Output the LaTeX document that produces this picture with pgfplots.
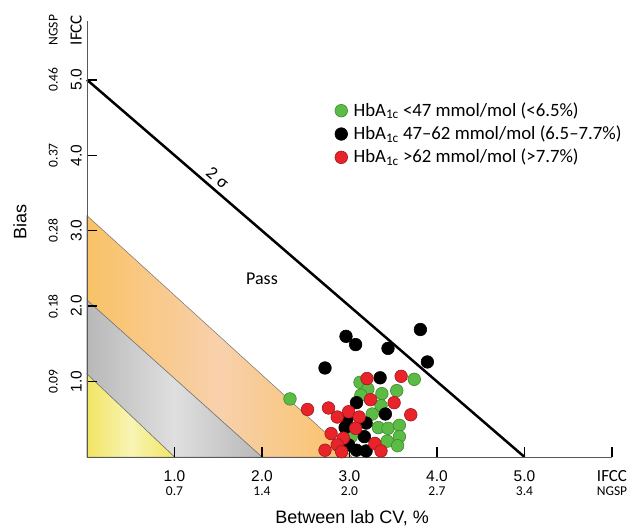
\documentclass[border=0pt]{standalone}
\usepackage{fontspec}
\setmainfont{Carlito}
\newfontfamily\arialf{Liberation Sans}
\usepackage{pgfplots}
\pgfplotsset{compat=1.18}
\definecolor{gfill}{HTML}{5CBB45}
\definecolor{gdraw}{HTML}{3C8A2C}
\definecolor{rfill}{HTML}{E8232A}
\definecolor{rdraw}{HTML}{9E1A1E}
\definecolor{orD}{HTML}{F9C266}
\definecolor{orL}{HTML}{F8D0AC}
\definecolor{grD}{HTML}{B8B8B8}
\definecolor{grL}{HTML}{DFDFDF}
\definecolor{yeD}{HTML}{F2E562}
\definecolor{yeL}{HTML}{F8F4B4}
\newcommand{\bigt}{\arialf\fontsize{15.5bp}{17bp}\selectfont}
\newcommand{\bigi}{\fontsize{17bp}{19bp}\selectfont}
\newcommand{\legf}{\fontsize{18.8bp}{21bp}\selectfont}
\begin{document}
\begin{tikzpicture}
\begin{axis}[
  scale only axis, width=525bp, height=436bp,
  xmin=0, xmax=6, ymin=0, ymax=5.78,
  axis x line*=bottom, axis y line*=left,
  axis line style={draw=black!65, line width=0.8bp},
  tick align=inside, major tick length=10bp,
  tick style={black, line width=1.4bp},
  xtick={1,2,3,4,5,6}, ytick={1,2,3,4,5},
  xticklabels={{{\bigt 1.0}\\0.7},{{\bigt 2.0}\\1.4},{{\bigt 3.0}\\2.0},{{\bigt 4.0}\\2.7},{{\bigt 5.0}\\3.4},{{\bigi IFCC}\\NGSP}},
  yticklabels={{0.09\\{\bigt 1.0}},{0.18\\{\bigt 2.0}},{0.28\\{\bigt 3.0}},{0.37\\{\bigt 4.0}},{0.46\\{\bigt 5.0}}},
  extra y ticks={5.66}, extra y tick labels={{NGSP\\{\bigi IFCC}}},
  extra y tick style={major tick length=0pt},
  xticklabel style={anchor=north, inner sep=0pt, align=center, font=\fontsize{13.5bp}{14bp}\selectfont},
  xticklabel shift=13bp,
  yticklabel style={rotate=90, anchor=south, inner sep=0pt, align=center, font=\fontsize{13.5bp}{24bp}\selectfont},
  yticklabel shift=5bp,
  xlabel={\arialf\fontsize{18bp}{20bp}\selectfont Between lab CV, \%},
  every axis x label/.style={at={(rel axis cs:0.505,0)}, yshift=-61bp, anchor=center},
  ylabel={\arialf\fontsize{18bp}{20bp}\selectfont Bias},
  every axis y label/.style={at={(rel axis cs:0,0.539)}, xshift=-67bp, rotate=90, anchor=center},
  clip=false, axis on top,
  legend style={at={(axis cs:2.834,4.69)}, anchor=north west, draw=none, fill=none,
    inner sep=0pt, outer sep=0pt, font=\legf, row sep=6.3bp, column sep=6bp,
    nodes={inner sep=0pt, text height=13bp, text depth=4bp, anchor=base west}},
  legend cell align=left,
  legend image code/.code={\draw[mark repeat=2,mark phase=2,#1] plot coordinates {(0bp,5.5bp)(6bp,5.5bp)(12bp,5.5bp)};},
]
% bands
\addplot[forget plot, draw=black!55, line width=0.5bp, left color=orD, right color=orD, middle color=orL]
  coordinates {(0,2.08) (0,3.2) (3.03,0) (2.0,0)} -- cycle;
\addplot[forget plot, draw=black!55, line width=0.5bp, left color=grD, right color=grD, middle color=grL]
  coordinates {(0,1.1) (0,2.08) (2.0,0) (1.0,0)} -- cycle;
\addplot[forget plot, draw=black!55, line width=0.5bp, left color=yeD, right color=yeD, middle color=yeL]
  coordinates {(0,0) (0,1.1) (1.0,0)} -- cycle;
% 2 sigma line
\addplot[forget plot, black, line width=2.5bp] coordinates {(0,5) (5,0)};
% data
\addplot[only marks, mark=*, mark size=6.3bp, mark options={fill=gfill, draw=gdraw, line width=0.6bp}] coordinates {
(2.32,0.77) (3.74,1.03) (3.12,0.99) (3.21,0.90) (3.13,0.82) (3.37,0.84) (3.54,0.88) (3.36,0.68)
(3.26,0.57) (3.33,0.39) (3.44,0.38) (3.57,0.42) (3.57,0.27) (3.43,0.21) (3.55,0.15) (3.02,0.27)};
\addlegendentry{HbA\textsubscript{1c} <47 mmol/mol (<6.5\%)}
\addplot[only marks, mark=*, mark size=6.3bp, mark options={fill=black, draw=black, line width=0.6bp}] coordinates {
(2.96,1.60) (3.07,1.49) (3.44,1.44) (3.81,1.69) (3.89,1.26) (2.72,1.18) (3.35,1.05) (3.08,0.72)
(3.41,0.57) (2.97,0.50) (2.95,0.39) (3.19,0.45) (3.17,0.27) (2.99,0.16) (3.08,0.09) (3.19,0.08)};
\addlegendentry{HbA\textsubscript{1c} 47\textendash 62 mmol/mol (6.5\textendash 7.7\%)}
\addplot[only marks, mark=*, mark size=6.3bp, mark options={fill=rfill, draw=rdraw, line width=0.6bp}] coordinates {
(3.20,1.04) (3.59,1.07) (3.24,0.76) (3.51,0.72) (2.52,0.63) (2.76,0.65) (2.99,0.60) (2.86,0.53)
(3.11,0.53) (3.70,0.56) (3.07,0.38) (2.79,0.31) (2.93,0.25) (2.86,0.16) (2.72,0.09) (2.91,0.07)
(3.29,0.18) (3.36,0.08)};
\addlegendentry{HbA\textsubscript{1c} >62 mmol/mol (>7.7\%)}
\node[font=\fontsize{18bp}{20bp}\selectfont] at (axis cs:2.0,2.36) {Pass};
\node[font=\fontsize{18bp}{20bp}\selectfont, rotate=-40.8, anchor=south, inner sep=5bp] at (axis cs:1.41,3.59) {2\hspace{5bp}σ};
\end{axis}
\pgfresetboundingbox
\path (-87bp,-71bp) rectangle (551bp,457bp);
\end{tikzpicture}
\end{document}
